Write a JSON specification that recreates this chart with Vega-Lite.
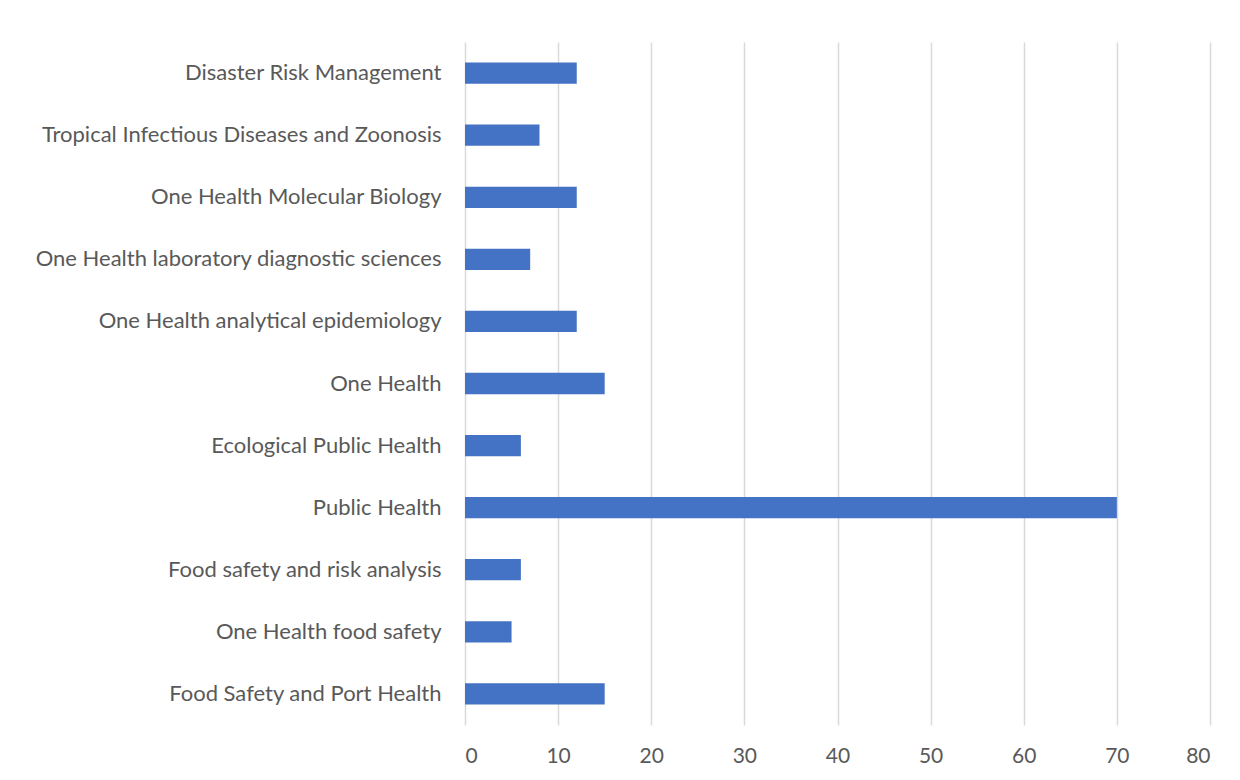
{
  "$schema": "https://vega.github.io/schema/vega-lite/v6.json",
  "autosize": "none",
  "width": 745,
  "height": 683,
  "padding": {"left": 465, "top": 42, "right": 30, "bottom": 55},
  "background": "white",
  "data": {
    "values": [
      {"program": "Disaster Risk Management", "count": 12},
      {"program": "Tropical Infectious Diseases and Zoonosis", "count": 8},
      {"program": "One Health Molecular Biology", "count": 12},
      {"program": "One Health laboratory diagnostic sciences\u00a0", "count": 7},
      {"program": "One Health analytical epidemiology\u00a0", "count": 12},
      {"program": "One Health", "count": 15},
      {"program": "Ecological Public Health", "count": 6},
      {"program": "Public Health\u00a0", "count": 70},
      {"program": "Food safety and risk analysis", "count": 6},
      {"program": "One Health food safety\u00a0", "count": 5},
      {"program": "Food Safety and Port Health", "count": 15}
    ]
  },
  "mark": {"type": "bar", "color": "#4472C4"},
  "encoding": {
    "y": {
      "field": "program",
      "type": "nominal",
      "sort": null,
      "scale": {"paddingInner": 0.657, "paddingOuter": 0.33},
      "axis": {
        "title": null,
        "domain": false,
        "ticks": false,
        "labelPadding": 24,
        "labelFont": "Lato",
        "labelFontSize": 22,
        "labelColor": "#595959",
        "labelLimit": 0
      }
    },
    "x": {
      "field": "count",
      "type": "quantitative",
      "scale": {"domain": [0, 80], "nice": false},
      "axis": {
        "title": null,
        "values": [0, 10, 20, 30, 40, 50, 60, 70, 80],
        "domain": false,
        "ticks": false,
        "grid": true,
        "gridColor": "#d9d9d9",
        "gridWidth": 1.5,
        "labelPadding": 20,
        "labelFont": "Lato",
        "labelFontSize": 21,
        "labelColor": "#595959"
      }
    }
  },
  "config": {"view": {"stroke": null}}
}
